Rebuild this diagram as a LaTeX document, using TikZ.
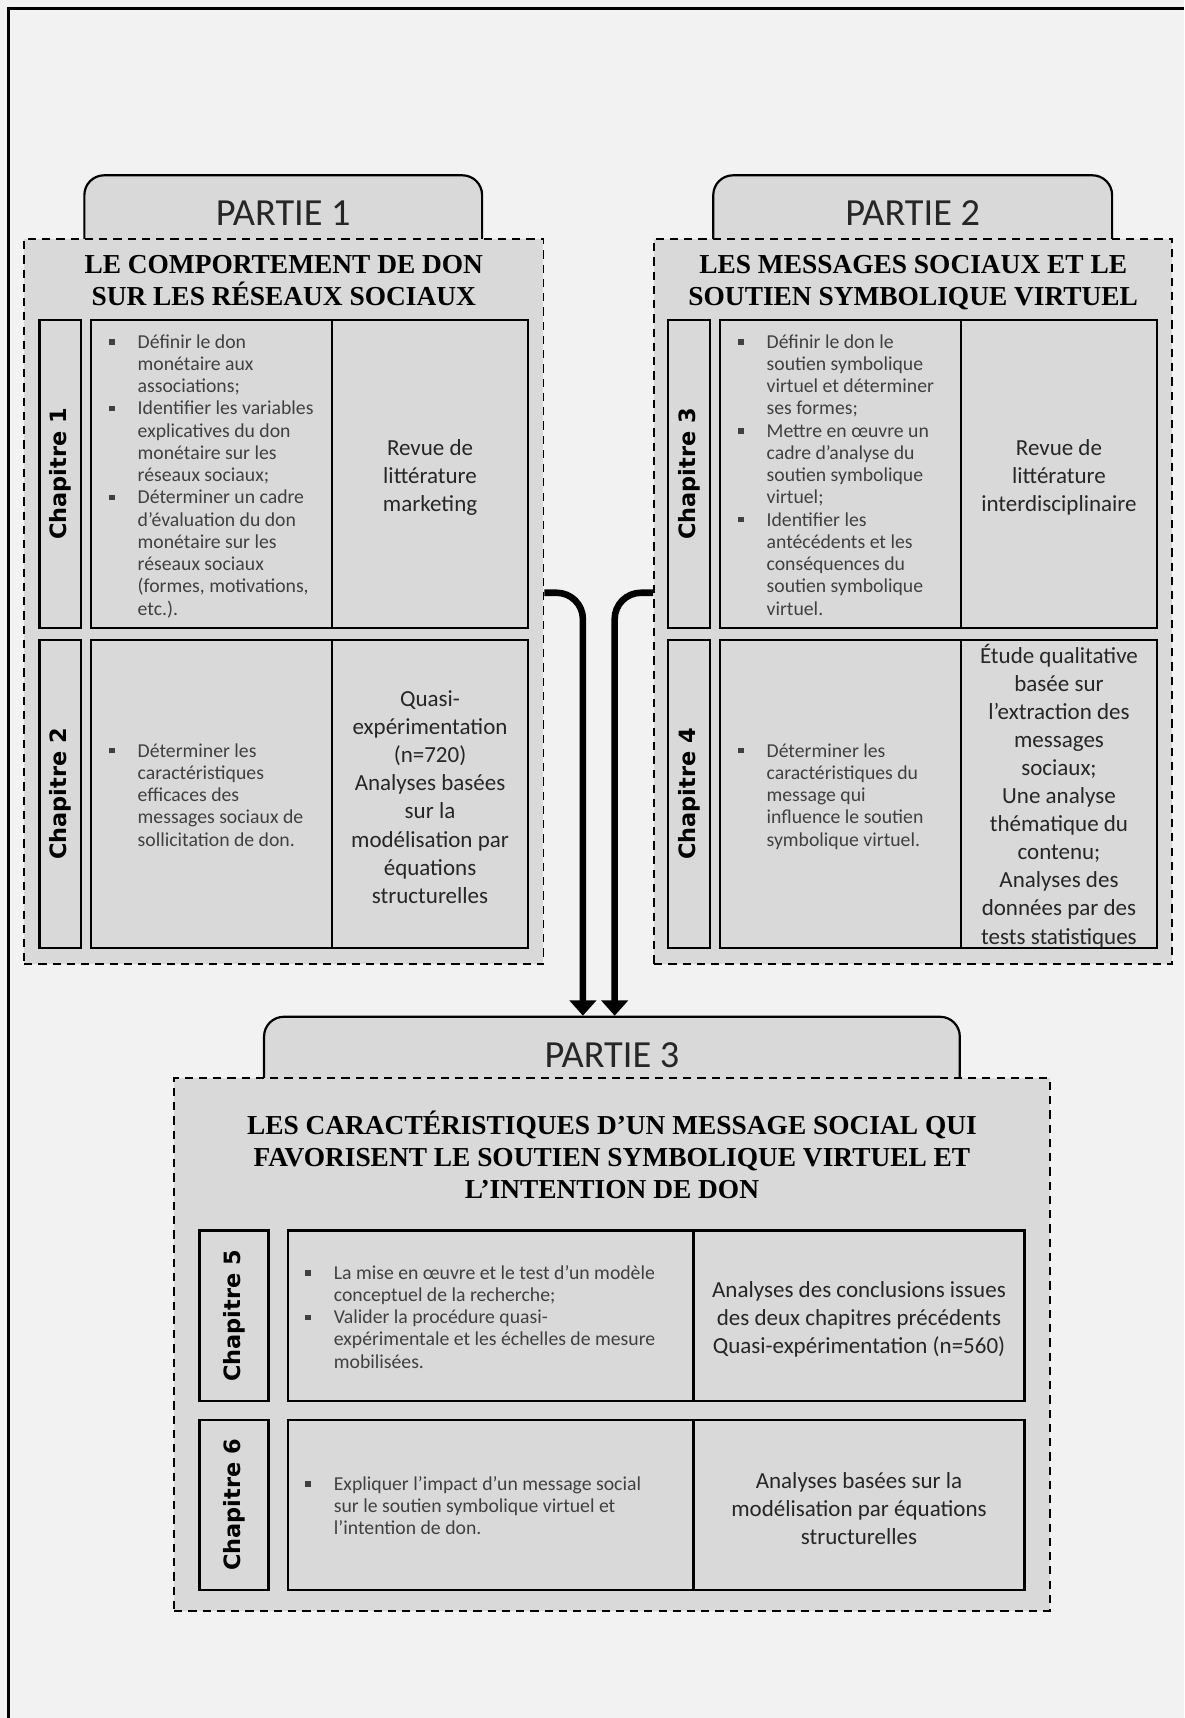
\documentclass[tikz,border=0pt]{standalone}
\usepackage{fontspec}
\setmainfont{Carlito}
\newfontfamily\titrefont{Liberation Serif}
\newfontfamily\chapfont{DejaVu Sans}
\usetikzlibrary{arrows.meta,positioning}
\definecolor{fond}{HTML}{F2F2F2}
\definecolor{gris}{HTML}{D9D9D9}
\newcommand{\puce}{\rule[3.3pt]{5pt}{5pt}}
\newcommand{\liste}[1]{\begin{tabular}{@{}l@{\hspace{21pt}}l@{}}#1\end{tabular}}

\begin{document}
\begin{tikzpicture}[x=1pt,y=-1pt,
    onglet/.style={draw,line width=2pt,fill=gris,rounded corners=18pt},
    partie/.style={inner sep=0pt,text=black!85,font=\fontsize{35}{40}\selectfont},
    groupe/.style={draw,line width=1.6pt,dash pattern=on 7.5pt off 5.5pt,fill=gris},
    titre/.style={inner sep=0pt,align=center,font=\titrefont\bfseries\fontsize{25}{29}\selectfont},
    chap/.style={draw,line width=2pt,fill=gris,rotate=90,inner sep=0pt,font=\chapfont\bfseries\fontsize{20.5}{24}\selectfont},
    cellule/.style={draw,line width=2pt,fill=gris,inner sep=0pt},
    methode/.style={inner sep=0pt,align=center,text=black!85,font=\fontsize{21}{25.6}\selectfont},
    puces/.style={inner sep=0pt,yshift=-3pt,text=black!75,font=\fontsize{18}{20.3}\selectfont},
    fleche/.style={line width=6pt,rounded corners=24pt,-{Triangle[width=24pt,length=14pt]}}]

	\useasboundingbox (0,0) rectangle (1081,1568);
	\fill[fond] (0,0) rectangle (1081,1568);
	\draw[line width=2.5pt] (8,1568) -- (8,8) -- (1081,8);

	\node[onglet,minimum width=363pt,minimum height=100pt] (t1) at (258.5,210) {};
	\node[onglet,minimum width=364pt,minimum height=100pt] (t2) at (833,210) {};
	\node[onglet,minimum width=635pt,minimum height=100pt] (t3) at (558.5,978) {};
	\node[partie] (p1) [below=24pt of t1.north] {PARTIE 1};
	\node[partie] (p2) [below=24pt of t2.north] {PARTIE 2};
	\node[partie] (p3) [below=24pt of t3.north] {PARTIE 3};

	\node[groupe,minimum width=474pt,minimum height=662pt] (g1) at (259,549) {};
	\node[groupe,minimum width=473pt,minimum height=662pt] (g2) at (833.5,549) {};
	\node[groupe,minimum width=799pt,minimum height=486pt] (g3) at (558.5,1227) {};

	\node[titre] (h1) [below=16pt of g1.north] {LE COMPORTEMENT DE DON\\SUR LES RÉSEAUX SOCIAUX};
	\node[titre] (h2) [below=16pt of g2.north] {LES MESSAGES SOCIAUX ET LE\\SOUTIEN SYMBOLIQUE VIRTUEL};
	\node[titre] (h3) [below=31pt of g3.north] {LES CARACTÉRISTIQUES D’UN MESSAGE SOCIAL QUI\\FAVORISENT LE SOUTIEN SYMBOLIQUE VIRTUEL ET\\L’INTENTION DE DON};

	\node[chap,minimum width=281pt,minimum height=38pt] (c1) at (55,432.5) {Chapitre 1};
	\node[cellule,minimum width=220pt,minimum height=281pt] (a1) at (193,432.5) {};
	\node[cellule,minimum width=179pt,minimum height=281pt] (b1) at (392.5,432.5) {};
	\node[methode] (m1) at ([yshift=-3pt]b1.center) {Revue de\\littérature\\marketing};
	\node[puces] (x1) [right=17.5pt of a1.west] {\liste{\puce & Définir le don\\
		& monétaire aux\\
		& associations;\\
		\puce & Identifier les variables\\
		& explicatives du don\\
		& monétaire sur les\\
		& réseaux sociaux;\\
		\puce & Déterminer un cadre\\
		& d’évaluation du don\\
		& monétaire sur les\\
		& réseaux sociaux\\
		& (formes, motivations,\\
		& etc.).}};

	\node[chap,minimum width=281pt,minimum height=38pt] (c2) at (55,724.5) {Chapitre 2};
	\node[cellule,minimum width=220pt,minimum height=281pt] (a2) at (193,724.5) {};
	\node[cellule,minimum width=179pt,minimum height=281pt] (b2) at (392.5,724.5) {};
	\node[methode] (m2) at ([yshift=-3pt]b2.center) {Quasi-\\expérimentation\\(n=720)\\Analyses basées\\sur la\\modélisation par\\équations\\structurelles};
	\node[puces] (x2) [right=17.5pt of a2.west] {\liste{\puce & Déterminer les\\
		& caractéristiques\\
		& efficaces des\\
		& messages sociaux de\\
		& sollicitation de don.}};

	\node[chap,minimum width=281pt,minimum height=38pt] (c3) at (629,432.5) {Chapitre 3};
	\node[cellule,minimum width=220pt,minimum height=281pt] (a3) at (767,432.5) {};
	\node[cellule,minimum width=179pt,minimum height=281pt] (b3) at (966.5,432.5) {};
	\node[methode] (m3) at ([yshift=-3pt]b3.center) {Revue de\\littérature\\interdisciplinaire};
	\node[puces] (x3) [right=17.5pt of a3.west] {\liste{\puce & Définir le don le\\
		& soutien symbolique\\
		& virtuel et déterminer\\
		& ses formes;\\
		\puce & Mettre en œuvre un\\
		& cadre d’analyse du\\
		& soutien symbolique\\
		& virtuel;\\
		\puce & Identifier les\\
		& antécédents et les\\
		& conséquences du\\
		& soutien symbolique\\
		& virtuel.}};

	\node[chap,minimum width=281pt,minimum height=38pt] (c4) at (629,724.5) {Chapitre 4};
	\node[cellule,minimum width=220pt,minimum height=281pt] (a4) at (767,724.5) {};
	\node[cellule,minimum width=179pt,minimum height=281pt] (b4) at (966.5,724.5) {};
	\node[methode] (m4) at ([yshift=-2pt]b4.center) {Étude qualitative\\basée sur\\l’extraction des\\messages\\sociaux;\\Une analyse\\thématique du\\contenu;\\Analyses des\\données par des\\tests statistiques};
	\node[puces] (x4) [right=17.5pt of a4.west] {\liste{\puce & Déterminer les\\
		& caractéristiques du\\
		& message qui\\
		& influence le soutien\\
		& symbolique virtuel.}};

	\node[chap,minimum width=156pt,minimum height=63pt] (c5) at (213.5,1201) {Chapitre 5};
	\node[cellule,minimum width=370pt,minimum height=156pt] (a5) at (448,1201) {};
	\node[cellule,minimum width=302pt,minimum height=156pt] (b5) at (784,1201) {};
	\node[methode] (m5) at ([yshift=-3pt]b5.center) {Analyses des conclusions issues\\des deux chapitres précédents\\Quasi-expérimentation (n=560)};
	\node[puces] (x5) [right=16.5pt of a5.west] {\liste{\puce & La mise en œuvre et le test d’un modèle\\
		& conceptuel de la recherche;\\
		\puce & Valider la procédure quasi-\\
		& expérimentale et les échelles de mesure\\
		& mobilisées.}};

	\node[chap,minimum width=155pt,minimum height=63pt] (c6) at (213.5,1373.5) {Chapitre 6};
	\node[cellule,minimum width=370pt,minimum height=155pt] (a6) at (448,1373.5) {};
	\node[cellule,minimum width=302pt,minimum height=155pt] (b6) at (784,1373.5) {};
	\node[methode] (m6) at ([yshift=-3pt]b6.center) {Analyses basées sur la\\modélisation par équations\\structurelles};
	\node[puces] (x6) [right=16.5pt of a6.west] {\liste{\puce & Expliquer l’impact d’un message social\\
		& sur le soutien symbolique virtuel et\\
		& l’intention de don.}};

	\draw[fleche] ([yshift=8pt]g1.east) -| ([xshift=-26.5pt]t3.north);
	\draw[fleche] ([yshift=8pt]g2.west) -| ([xshift=2.5pt]t3.north);
\end{tikzpicture}
\end{document}
